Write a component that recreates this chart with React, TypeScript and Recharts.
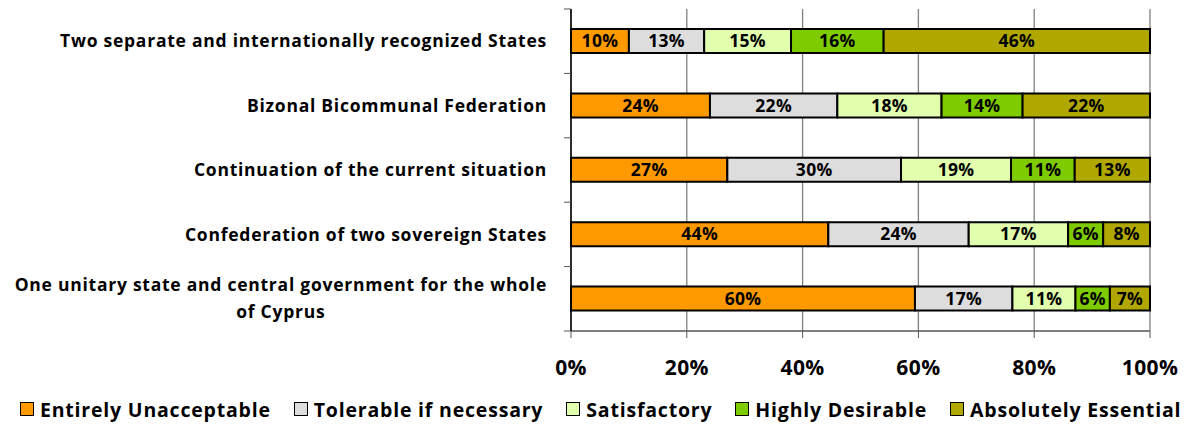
import React from "react";
import {
  BarChart,
  Bar,
  XAxis,
  YAxis,
  CartesianGrid,
  LabelList,
} from "recharts";

// categories, top to bottom
const categories = [
  ["Two separate and internationally recognized States"],
  ["Bizonal Bicommunal Federation"],
  ["Continuation of the current situation"],
  ["Confederation of two sovereign States"],
  ["One unitary state and central government for the whole", "of Cyprus"],
];

const seriesNames = [
  "Entirely Unacceptable",
  "Tolerable if necessary",
  "Satisfactory",
  "Highly Desirable",
  "Absolutely Essential",
];

const seriesColors = ["#FF9900", "#DDDDDD", "#E1FFAD", "#7ECC00", "#B0A800"];

const unacceptable = [10, 24, 27, 44, 60];
const tolerable = [13, 22, 30, 24, 17];
const satisfactory = [15, 18, 19, 17, 11];
const desirable = [16, 14, 11, 6, 6];
const essential = [46, 22, 13, 8, 7];

const seriesValues = [unacceptable, tolerable, satisfactory, desirable, essential];

const xTicks = [0, 0.2, 0.4, 0.6, 0.8, 1];

const FONT = "'Open Sans', sans-serif";
const CAT_SIZE = 17.5;
const CAT_SPACING = 0.75;
const W = 1190;
const H = 392;
const MARGIN = { top: 9, right: 40, bottom: 0, left: 0 };
const X_AXIS_H = H - 331;
const Y_AXIS_W = 571;

const data = categories.map((lines, i) => {
  const row: Record<string, any> = { name: lines.join(" "), lines };
  seriesValues.forEach((vals, s) => {
    row["s" + s] = vals[i];
  });
  return row;
});

const plotH = H - MARGIN.top - MARGIN.bottom - X_AXIS_H;
const band = plotH / categories.length;

let measureCtx: CanvasRenderingContext2D | null = null;
function textWidth(s: string) {
  const fallback = s.length * CAT_SIZE * 0.6;
  if (typeof document === "undefined") return fallback;
  if (!measureCtx) measureCtx = document.createElement("canvas").getContext("2d");
  if (!measureCtx) return fallback;
  measureCtx.font = `bold ${CAT_SIZE}px 'Open Sans'`;
  return measureCtx.measureText(s).width + s.length * CAT_SPACING;
}

function CategoryTick(props: any) {
  const { x, y, index } = props;
  const lines: string[] = categories[index] || [];
  const isLast = index === categories.length - 1;
  const lineH = 27;
  const textRight = x - 24;
  const common = {
    fontFamily: FONT,
    fontWeight: "bold" as const,
    fontSize: CAT_SIZE,
    letterSpacing: CAT_SPACING,
    fill: "#000",
  };
  let label;
  if (lines.length === 1) {
    label = (
      <text x={textRight} y={y} dy="0.35em" textAnchor="end" {...common}>
        {lines[0]}
      </text>
    );
  } else {
    const maxW = Math.max(...lines.map(textWidth));
    const cx = textRight - maxW / 2;
    label = (
      <text x={cx} y={y - ((lines.length - 1) * lineH) / 2} textAnchor="middle" {...common}>
        {lines.map((l, k) => (
          <tspan key={k} x={cx} dy={k === 0 ? "0.35em" : lineH}>
            {l}
          </tspan>
        ))}
      </text>
    );
  }
  return (
    <g>
      <line x1={x - 7} x2={x} y1={y - band / 2} y2={y - band / 2} stroke="#555" />
      {isLast && (
        <line x1={x - 7} x2={x} y1={y + band / 2} y2={y + band / 2} stroke="#555" />
      )}
      {label}
    </g>
  );
}

function Legend() {
  return (
    <div
      style={{
        display: "flex",
        alignItems: "center",
        height: 34,
        paddingLeft: 20,
        fontFamily: FONT,
        fontWeight: "bold",
        fontSize: 19.5,
        letterSpacing: 0.8,
        color: "#000",
        whiteSpace: "nowrap",
      }}
    >
      {seriesNames.map((n, i) => (
        <div
          key={n}
          style={{
            display: "flex",
            alignItems: "center",
            marginRight: i < seriesNames.length - 1 ? 23 : 0,
            flexShrink: 0,
          }}
        >
          <span
            style={{
              display: "inline-block",
              width: 12,
              height: 12,
              background: seriesColors[i],
              border: "1.5px solid #000",
              marginRight: 6,
            }}
          />
          <span>{n}</span>
        </div>
      ))}
    </div>
  );
}

export default function App() {
  return (
    <div style={{ width: W, height: 426, background: "#fff", overflow: "hidden" }}>
      <style>{"body{margin:0}"}</style>
      <BarChart
        width={W}
        height={H}
        data={data}
        layout="vertical"
        stackOffset="expand"
        margin={MARGIN}
        barSize={24}
      >
        <CartesianGrid horizontal={false} stroke="#808080" strokeWidth={1.3} />
        <XAxis
          type="number"
          domain={[0, 1]}
          ticks={xTicks}
          tickFormatter={(v: number) => `${Math.round(v * 100)}%`}
          height={X_AXIS_H}
          axisLine={{ stroke: "#555", strokeWidth: 1.5 }}
          tickLine={{ stroke: "#555" }}
          tickSize={7}
          tickMargin={22}
          tick={{
            fontFamily: FONT,
            fontWeight: "bold",
            fontSize: 21,
            letterSpacing: 0.4,
            fill: "#000",
          }}
          interval={0}
        />
        <YAxis
          type="category"
          dataKey="name"
          width={Y_AXIS_W}
          axisLine={{ stroke: "#000", strokeWidth: 1.5 }}
          tickLine={false}
          tickSize={0}
          tickMargin={0}
          tick={<CategoryTick />}
          interval={0}
        />
        {seriesNames.map((n, i) => (
          <Bar
            key={n}
            dataKey={"s" + i}
            name={n}
            stackId="a"
            fill={seriesColors[i]}
            stroke="#000"
            strokeWidth={2}
            isAnimationActive={false}
          >
            <LabelList
              dataKey={"s" + i}
              position="center"
              formatter={(v: any) => `${v}%`}
              fill="#000"
              fontFamily={FONT}
              fontWeight="bold"
              fontSize={17.5}
              letterSpacing={0.3}
            />
          </Bar>
        ))}
      </BarChart>
      <Legend />
    </div>
  );
}
